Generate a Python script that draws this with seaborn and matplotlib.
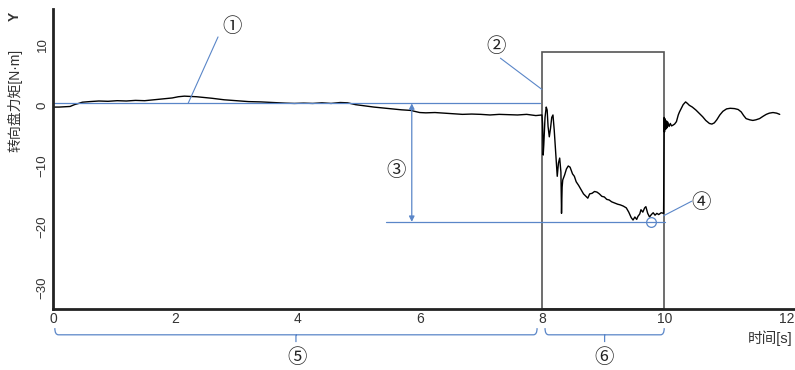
import numpy as np
import matplotlib
matplotlib.use("Agg")
import matplotlib.pyplot as plt
import seaborn as sns
from matplotlib.patches import Rectangle
from matplotlib.path import Path
from matplotlib.patches import PathPatch

sns.set_theme(style="white")
plt.rcParams['font.family'] = ['Liberation Sans', 'Noto Sans CJK SC', 'DejaVu Sans']

# steering wheel torque trace
t_cruise = [0.00, 0.10, 0.20, 0.28, 0.35, 0.42, 0.48, 0.60, 0.75, 0.90, 1.05, 1.20,
            1.35, 1.50, 1.65, 1.80, 1.95, 2.05, 2.15, 2.25, 2.35, 2.45, 2.60, 2.80,
            3.00, 3.20, 3.40, 3.60, 3.80, 3.95, 4.10, 4.25, 4.40, 4.55, 4.70, 4.82,
            4.95, 5.10, 5.25, 5.40, 5.55, 5.70, 5.85, 6.00, 6.10, 6.25, 6.40, 6.55,
            6.70, 6.85, 7.00, 7.15, 7.30, 7.45, 7.60, 7.75, 7.90, 7.99]
v_cruise = [-0.3, -0.3, -0.25, -0.2, 0.1, 0.3, 0.5, 0.6, 0.7, 0.65, 0.75, 0.7,
            0.8, 0.75, 0.9, 1.05, 1.2, 1.4, 1.5, 1.45, 1.4, 1.3, 1.15, 0.9,
            0.75, 0.6, 0.55, 0.45, 0.35, 0.3, 0.35, 0.3, 0.4, 0.3, 0.45, 0.4,
            0.1, -0.1, -0.3, -0.45, -0.6, -0.75, -0.85, -1.2, -1.25, -1.2, -1.3, -1.4,
            -1.5, -1.45, -1.5, -1.6, -1.5, -1.55, -1.6, -1.5, -1.7, -1.6]

t_event = [8.00, 8.01, 8.02, 8.03, 8.05, 8.07, 8.085, 8.10, 8.12, 8.14, 8.16, 8.18,
           8.20, 8.23, 8.25, 8.27, 8.29, 8.31, 8.32, 8.33, 8.34, 8.37, 8.40, 8.43,
           8.46, 8.50, 8.53, 8.56, 8.60, 8.64, 8.68, 8.72, 8.75, 8.78, 8.82, 8.86,
           8.90, 8.94, 8.98, 9.02, 9.06, 9.10, 9.14, 9.19, 9.24, 9.28, 9.33, 9.38,
           9.42, 9.46, 9.49, 9.52, 9.55, 9.57, 9.60, 9.62, 9.65, 9.68, 9.70, 9.73,
           9.76, 9.79, 9.82, 9.85, 9.88, 9.91, 9.95, 9.99]
v_event = [-1.6, -3.0, -8.2, -6.5, -2.0, -0.3, -0.8, -3.5, -5.2, -3.8, -2.0, -1.6,
           -4.0, -8.5, -11.7, -9.5, -8.7, -11.0, -17.8, -13.5, -12.3, -11.5, -10.5, -10.0,
           -10.2, -11.3, -11.7, -12.6, -13.2, -13.9, -14.6, -15.0, -15.3, -14.6, -14.5, -14.2,
           -14.3, -14.6, -15.0, -15.1, -15.5, -15.6, -15.9, -16.1, -16.3, -16.4, -16.6, -16.9,
           -17.6, -18.5, -18.9, -18.4, -18.8, -18.3, -17.9, -17.2, -17.6, -16.9, -16.7, -17.8,
           -18.4, -18.0, -17.7, -18.1, -17.8, -18.0, -17.7, -17.8]

t_release = [10.00, 10.005, 10.01, 10.015, 10.02, 10.03, 10.04, 10.05, 10.06, 10.08,
             10.10, 10.12, 10.14, 10.17, 10.20, 10.23, 10.25, 10.28, 10.31, 10.35,
             10.38, 10.41, 10.46, 10.52, 10.57, 10.63, 10.68, 10.74, 10.78, 10.82,
             10.86, 10.91, 10.96, 11.02, 11.08, 11.15, 11.21, 11.26, 11.30, 11.34,
             11.40, 11.45, 11.50, 11.56, 11.62, 11.67, 11.72, 11.78, 11.84, 11.89]
v_release = [-2.0, -4.4, -2.2, -4.0, -2.5, -3.9, -2.6, -3.7, -2.8, -3.5,
             -3.0, -3.4, -3.3, -3.1, -2.7, -1.6, -1.1, -0.5, 0.1, 0.55,
             0.3, 0.0, -0.3, -0.8, -1.3, -1.9, -2.5, -3.0, -3.1, -2.9,
             -2.4, -1.6, -1.0, -0.6, -0.5, -0.55, -0.7, -1.1, -1.7, -2.2,
             -2.4, -2.5, -2.4, -2.2, -1.8, -1.5, -1.3, -1.2, -1.3, -1.5]

x_ticks = [0, 2, 4, 6, 8, 10, 12]
y_ticks = [10, 0, -10, -20, -30]

time = np.array(t_cruise + t_event + t_release)
torque = np.array(v_cruise + v_event + v_release)

blue = '#5a86c8'
ymin, ymax = -33.6, 15.8

fig = plt.figure(figsize=(7.95, 3.7), dpi=100)
ax = fig.add_axes([53 / 795, 1 - 309.3 / 370, 1 - 53 / 795, 300 / 370])

sns.lineplot(x=time, y=torque, ax=ax, color='black', lw=1.0, estimator=None, sort=False)

ax.set_xlim(0, 12.14)
ax.set_ylim(ymin, ymax)
ax.set_xticks(x_ticks)
ax.set_yticks(y_ticks)
ax.set_xlabel('')
ax.set_ylabel('')
sns.despine(ax=ax)
for s in ['left', 'bottom']:
    ax.spines[s].set_linewidth(2)
    ax.spines[s].set_color('#222')

ax.tick_params(axis='x', direction='in', length=13, width=1, color='#888',
               labelsize=10, labelcolor='#333', pad=2)
ax.tick_params(axis='y', direction='in', length=2, width=1, color='#888',
               labelsize=9.5, labelcolor='#333', pad=3, labelrotation=90)
for lab in ax.get_yticklabels():
    lab.set_va('center')
ax.yaxis.get_major_ticks()[0].tick1line.set_markersize(6)

# event window
ax.add_patch(Rectangle((8, ymin), 2, 8.8 - ymin, fill=False, ec='#555', lw=1.2, zorder=1))

# reference lines
ax.plot([0, 7.97], [0.3, 0.3], color=blue, lw=0.9)
ax.plot([5.45, 10.02], [-19.2, -19.2], color=blue, lw=0.9)
ax.annotate('', xy=(5.87, -19.2), xytext=(5.87, 0.3),
            arrowprops=dict(arrowstyle='<|-|>', color=blue, lw=0.9,
                            mutation_scale=8, shrinkA=0, shrinkB=0))
ax.plot([9.79], [-19.2], marker='o', ms=7, mfc='none', mec=blue, mew=0.9)

# leader lines
ax.plot([2.70, 2.21], [11.25, 0.3], color=blue, lw=0.8)
ax.plot([7.32, 8.0], [7.75, 2.6], color=blue, lw=0.8)
ax.plot([10.45, 9.99], [-15.8, -18.2], color=blue, lw=0.8)

circ = dict(fontsize=14, ha='center', va='center', color='#222')
ax.text(2.93, 12.9, '①', **circ)
ax.text(7.25, 9.6, '②', **circ)
ax.text(5.62, -10.7, '③', **circ)
ax.text(10.6, -16.0, '④', **circ)


def brace(x0, x1):
    xm = (x0 + x1) / 2
    r = 0.06
    verts = [(x0, -36.7), (x0, -37.8), (x0 + r, -37.8), (xm, -37.8), (xm, -39.0),
             (xm, -37.8), (x1 - r, -37.8), (x1, -37.8), (x1, -36.7)]
    codes = [Path.MOVETO, Path.CURVE3, Path.CURVE3, Path.LINETO, Path.LINETO,
             Path.MOVETO, Path.LINETO, Path.CURVE3, Path.CURVE3]
    ax.add_patch(PathPatch(Path(verts, codes), fill=False, ec=blue, lw=0.9, clip_on=False))


brace(0.03, 7.92)
brace(8.05, 10.0)
ax.text(4.0, -41.5, '⑤', clip_on=False, **circ)
ax.text(9.02, -41.5, '⑥', clip_on=False, **circ)

fig.text(15 / 795, 1 - 100 / 370, '转向盘力矩[N·m]', rotation=90, ha='center', va='center',
         fontsize=10, color='#333')
fig.text(15 / 795, 1 - 16 / 370, 'Y', rotation=90, ha='center', va='center',
         fontsize=10, fontweight='bold', color='#333')
fig.text(792 / 795, 1 - 338 / 370, '时间[s]', ha='right', va='center', fontsize=10.5, color='#333')

fig.savefig('out.png', dpi=100)
